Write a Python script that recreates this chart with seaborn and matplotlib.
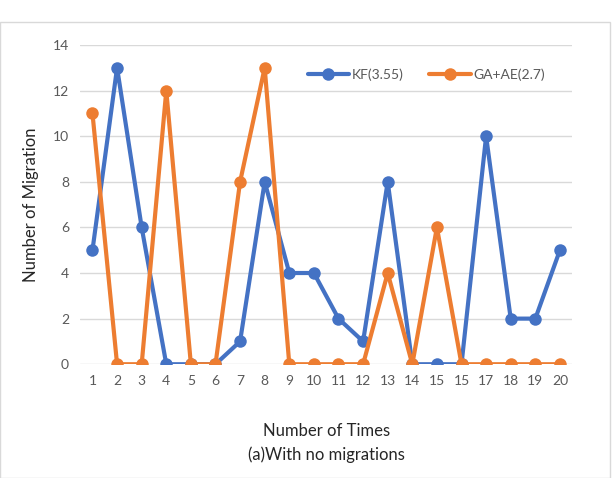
import pandas as pd
import matplotlib.pyplot as plt
import seaborn as sns
from matplotlib.patches import Rectangle

# tick labels as printed in the original (16 shows as "15")
x_labels = ['1', '2', '3', '4', '5', '6', '7', '8', '9', '10',
            '11', '12', '13', '14', '15', '15', '17', '18', '19', '20']
kf = [5, 13, 6, 0, 0, 0, 1, 8, 4, 4, 2, 1, 8, 0, 0, 0, 10, 2, 2, 5]
ga_ae = [11, 0, 0, 12, 0, 0, 8, 13, 0, 0, 0, 0, 4, 0, 6, 0, 0, 0, 0, 0]

pos = list(range(1, len(x_labels) + 1))
df = pd.DataFrame({'pos': pos * 2,
                   'value': kf + ga_ae,
                   'series': ['KF(3.55)'] * len(kf) + ['GA+AE(2.7)'] * len(ga_ae)})

sns.set_style('white')
plt.rcParams['font.family'] = ['Lato', 'DejaVu Sans']

fig = plt.figure(figsize=(6.12, 4.78), dpi=100)
ax = fig.add_axes([0.131, 0.238, 0.804, 0.668])

# light chart-area frame
fig.patches.append(Rectangle((0.0, 0.0), 0.996, 0.953, transform=fig.transFigure,
                             fill=False, edgecolor='#d9d9d9', linewidth=1))

sns.lineplot(data=df, x='pos', y='value', hue='series',
             palette={'KF(3.55)': '#4472C4', 'GA+AE(2.7)': '#ED7D31'},
             marker='o', markersize=9, markeredgewidth=0, linewidth=3.0, ax=ax)

ax.set_xlim(0.5, 20.5)
ax.set_ylim(0, 14)
ax.set_yticks(range(0, 15, 2))
ax.set_xticks(pos)
ax.set_xticklabels(x_labels)
ax.tick_params(axis='both', colors='#595959', labelsize=10, length=0, pad=8)
ax.yaxis.grid(True, color='#d9d9d9', linewidth=1)
ax.set_axisbelow(True)
for s in ax.spines.values():
    s.set_visible(False)

ax.set_ylabel('Number of Migration', fontsize=12, color='#262626', labelpad=10)
ax.set_xlabel('Number of Times\n(a)With no migrations', fontsize=12,
              color='#262626', labelpad=26, linespacing=1.55)

leg = ax.legend(loc='upper right', bbox_to_anchor=(0.97, 0.965), ncol=2, frameon=False,
                fontsize=10, handlelength=3.0, columnspacing=1.8, handletextpad=0.2)
for t in leg.get_texts():
    t.set_color('#595959')

fig.savefig('out.png', dpi=100)
